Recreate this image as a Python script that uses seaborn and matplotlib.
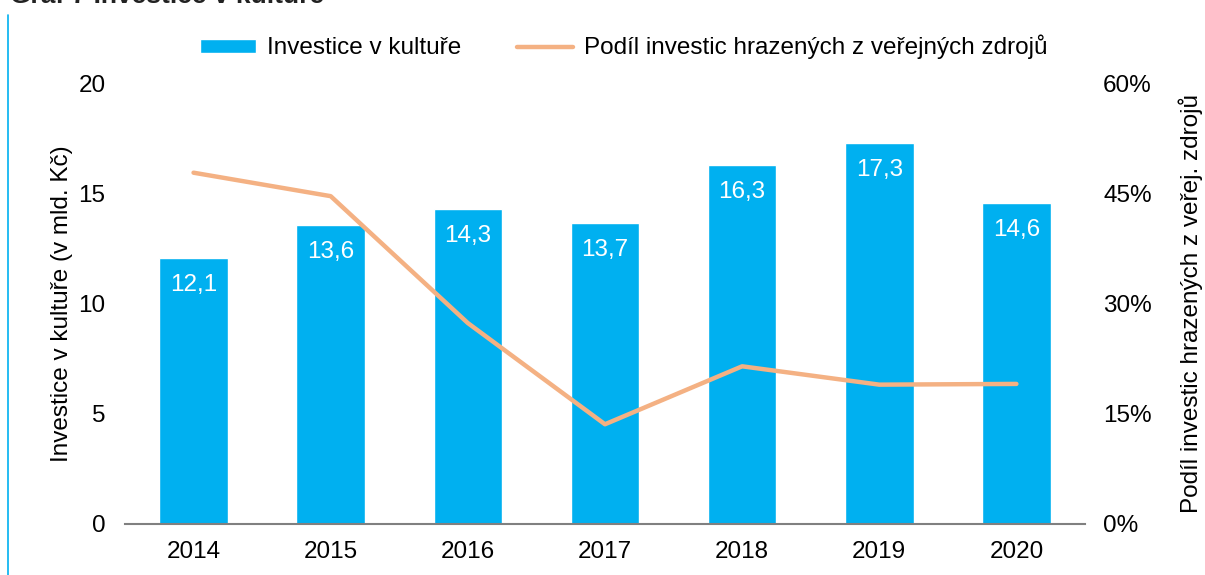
import pandas as pd
import matplotlib.pyplot as plt
import seaborn as sns
import numpy as np
from matplotlib.lines import Line2D
from matplotlib.patches import Patch
from matplotlib.ticker import PercentFormatter

years = ['2014', '2015', '2016', '2017', '2018', '2019', '2020']
investice = [12.1, 13.6, 14.3, 13.7, 16.3, 17.3, 14.6]
podil_verejne = [47.9, 44.7, 27.4, 13.6, 21.5, 19.0, 19.1]

bar_color = '#00B0F0'
line_color = '#F4B183'

sns.set_style('white')
plt.rcParams['font.family'] = ['Liberation Sans', 'DejaVu Sans']
plt.rcParams['text.color'] = 'black'
plt.rcParams['axes.labelcolor'] = 'black'
plt.rcParams['xtick.color'] = 'black'
plt.rcParams['ytick.color'] = 'black'

fs = 17.5
df = pd.DataFrame({'rok': years, 'investice': investice, 'podil': podil_verejne})

fig = plt.figure(figsize=(12.05, 5.75), dpi=100)
ax = fig.add_axes([0.1037, 0.0887, 0.7967, 0.7653])

sns.barplot(data=df, x='rok', y='investice', color=bar_color, saturation=1,
            width=0.5, ax=ax)
ax.set_ylim(0, 20)
ax.set_xlim(-0.5, len(years) - 0.5)
ax.set_yticks([0, 5, 10, 15, 20])
ax.set_xlabel('')
ax.set_ylabel('Investice v kultuře (v mld. Kč)', fontsize=fs, labelpad=4)
ax.tick_params(axis='both', labelsize=fs, length=0)
ax.tick_params(axis='y', pad=14)
ax.tick_params(axis='x', pad=12)
for s in ['top', 'left', 'right']:
    ax.spines[s].set_visible(False)
ax.spines['bottom'].set_color('#808080')
ax.spines['bottom'].set_linewidth(1.5)

for bar, v in zip(ax.patches, investice):
    ax.annotate(f'{v:.1f}'.replace('.', ','),
                (bar.get_x() + bar.get_width() / 2, bar.get_height()),
                xytext=(0, -27), textcoords='offset pixels',
                ha='center', va='center', color='white', fontsize=fs)

ax2 = ax.twinx()
sns.lineplot(x=np.arange(len(years)), y=df['podil'], color=line_color,
             linewidth=3.2, ax=ax2)
ax2.set_ylim(0, 60)
ax2.set_yticks([0, 15, 30, 45, 60])
ax2.yaxis.set_major_formatter(PercentFormatter(decimals=0))
ax2.set_ylabel('Podíl investic hrazených z veřej. zdrojů', fontsize=fs, labelpad=19)
ax2.tick_params(axis='y', labelsize=fs, length=0, pad=13)
for s in ['top', 'left', 'right', 'bottom']:
    ax2.spines[s].set_visible(False)
ax2.set_xlim(-0.5, len(years) - 0.5)

handles = [Patch(facecolor=bar_color, label='Investice v kultuře'),
           Line2D([0], [0], color=line_color, lw=3.2,
                  label='Podíl investic hrazených z veřejných zdrojů')]
fig.legend(handles=handles, loc='center', bbox_to_anchor=(624 / 1205, 1 - 47 / 575),
           ncol=2, frameon=False, fontsize=fs, handlelength=2.3,
           handleheight=0.5, columnspacing=2.3, handletextpad=0.45)

# title cut off at the top edge, plus the blue side rule
fig.text(0.008, 1 - 3 / 575, 'Graf 7 Investice v kultuře', fontsize=19,
         fontweight='bold', color='#222222', va='baseline', ha='left')
fig.add_artist(Line2D([8 / 1205, 8 / 1205], [0, 1 - 15 / 575],
                      transform=fig.transFigure, color=bar_color, lw=1.2))

fig.savefig('out.png', dpi=100)
